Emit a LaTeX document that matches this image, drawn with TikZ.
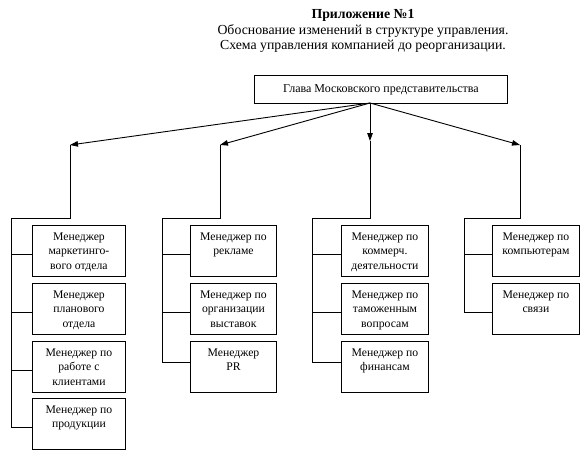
\documentclass[tikz,border=0pt]{standalone}
\usepackage{fontspec}
\setmainfont{Liberation Serif}
\usetikzlibrary{arrows.meta}
\newcommand\mgrtext[1]{\parbox[c][51pt][t]{84pt}{\centering\rule{0pt}{15pt}#1}}
\begin{document}
\begin{tikzpicture}[x=1pt,y=-1pt,
  ln/.style={line width=0.9pt},
  arr/.style={ln,-{Triangle[length=8pt,width=5.5pt]}},
  mgr/.style={draw,line width=0.9pt,inner sep=0pt,anchor=north west,font=\fontsize{11.7}{14.5}\selectfont},
  w1/.style={minimum width=93pt},
  w2/.style={minimum width=86pt},
  w3/.style={minimum width=87pt}]
\useasboundingbox (0,0) rectangle (588,458);
\node[align=center,font=\fontsize{13.8}{15.8}\selectfont] (title) at (363,31)
  {\textbf{Приложение №1}\\Обоснование изменений в структуре управления.\\Схема управления компанией до реорганизации.};
\node[draw,line width=0.9pt,minimum width=253pt,minimum height=28pt,inner sep=0pt,anchor=north west,font=\fontsize{12}{14}\selectfont] (head) at (254,75) {Глава Московского представительства};
\coordinate (hub) at (370,103);
\coordinate (a1) at (70,145);
\coordinate (a2) at (220,145);
\coordinate (a3) at (370,141);
\coordinate (a4) at (520,145);
\draw[arr] (hub) -- (a1);
\draw[arr] (hub) -- (a2);
\draw[arr] (hub) -- (a3);
\draw[arr] (hub) -- (a4);
% group 1
\node[mgr,w1] (g1b1) at (32,225) {\mgrtext{Менеджер\\маркетинго-\\вого отдела}};
\node[mgr,w1] (g1b2) at (32,283) {\mgrtext{Менеджер\\планового\\отдела}};
\node[mgr,w1] (g1b3) at (32,341) {\mgrtext{Менеджер по\\работе с\\клиентами}};
\node[mgr,w1] (g1b4) at (32,398) {\mgrtext{Менеджер по\\продукции}};
\draw[ln] (a1) -- (70,218) -- (11,218) -- (11,427);
\draw[ln] (11,254) -- (g1b1.west |- 11,254);
\draw[ln] (11,312) -- (g1b2.west |- 11,312);
\draw[ln] (11,370) -- (g1b3.west |- 11,370);
\draw[ln] (11,427) -- (g1b4.west |- 11,427);
% group 2
\node[mgr,w2] (g2b1) at (190,225) {\mgrtext{Менеджер по\\рекламе}};
\node[mgr,w2] (g2b2) at (190,283) {\mgrtext{Менеджер по\\организации\\выставок}};
\node[mgr,w2] (g2b3) at (190,341) {\mgrtext{Менеджер\\PR}};
\draw[ln] (a2) -- (220,218) -- (162,218) -- (162,362);
\draw[ln] (162,254) -- (g2b1.west |- 162,254);
\draw[ln] (162,312) -- (g2b2.west |- 162,312);
\draw[ln] (162,362) -- (g2b3.west |- 162,362);
% group 3
\node[mgr,w3] (g3b1) at (341,225) {\mgrtext{Менеджер по\\коммерч.\\деятельности}};
\node[mgr,w3] (g3b2) at (341,283) {\mgrtext{Менеджер по\\таможенным\\вопросам}};
\node[mgr,w3] (g3b3) at (341,341) {\mgrtext{Менеджер по\\финансам}};
\draw[ln] (a3) -- (370,218) -- (312,218) -- (312,362);
\draw[ln] (312,254) -- (g3b1.west |- 312,254);
\draw[ln] (312,312) -- (g3b2.west |- 312,312);
\draw[ln] (312,362) -- (g3b3.west |- 312,362);
% group 4
\node[mgr,w3] (g4b1) at (492,225) {\mgrtext{Менеджер по\\компьютерам}};
\node[mgr,w3] (g4b2) at (492,283) {\mgrtext{Менеджер по\\связи}};
\draw[ln] (a4) -- (520,218) -- (464,218) -- (464,312);
\draw[ln] (464,254) -- (g4b1.west |- 464,254);
\draw[ln] (464,312) -- (g4b2.west |- 464,312);
\end{tikzpicture}
\end{document}
